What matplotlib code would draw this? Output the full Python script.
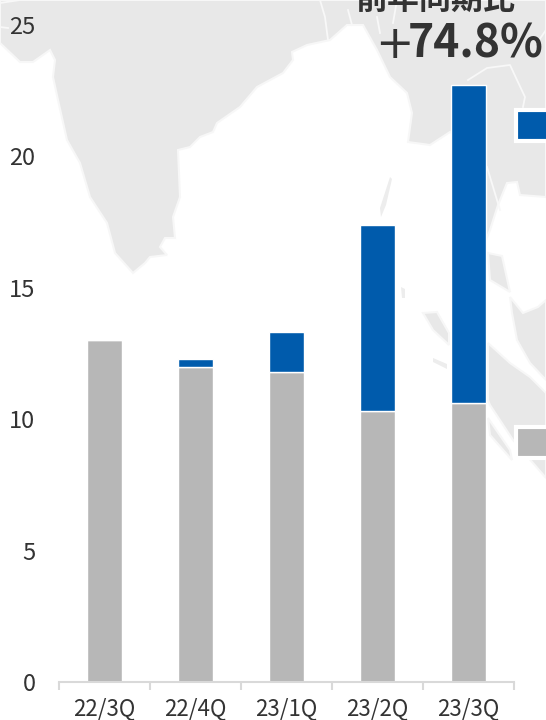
"""
Quarterly stacked bars over a pale regional map backdrop.
"""

import matplotlib
matplotlib.use("Agg")
import matplotlib.pyplot as plt
from matplotlib.patches import Polygon, Rectangle

plt.rcParams['font.family'] = ['Noto Sans CJK JP', 'DejaVu Sans']

WIDTH, HEIGHT = 546, 720

quarters = ['22/3Q', '22/4Q', '23/1Q', '23/2Q', '23/3Q']
grey_values = [13.0, 12.0, 11.8, 10.3, 10.6]
blue_values = [0.0, 0.3, 1.5, 7.1, 12.1]
y_ticks = [0, 5, 10, 15, 20, 25]

BLUE = '#005BAC'
GREY = '#B7B7B7'
LAND = '#E8E8E8'
TEXT = '#333333'

# backdrop outlines, in image pixels
mainland = [(0, 0), (546, 0), (546, 197), (520, 195), (517, 182), (507, 183), (498, 205), (490, 230),
            (486, 240), (486, 150), (450, 132), (430, 145), (408, 142), (412, 113), (407, 93),
            (390, 77), (377, 50), (363, 25), (347, 25), (330, 40), (307, 45), (292, 52), (293, 60),
            (283, 73), (257, 87), (240, 107), (217, 123), (213, 132), (200, 137), (190, 147),
            (178, 150), (180, 197), (173, 217), (175, 238), (165, 238), (160, 247), (167, 255),
            (150, 257), (145, 263), (133, 273), (115, 253), (107, 223), (90, 197), (80, 163),
            (67, 140), (58, 100), (53, 77), (55, 60), (50, 50), (33, 62), (20, 62), (0, 43)]
strip = [(488, 253), (502, 256), (510, 292), (490, 280)]
indochina = [(510, 297), (523, 313), (538, 307), (546, 300), (546, 380), (530, 363), (517, 340),
             (512, 313)]
sumatra_east = [(488, 343), (510, 363), (530, 377), (546, 393), (546, 478), (533, 463), (513, 440),
                (490, 405), (488, 400)]
sumatra_low = [(488, 418), (510, 450), (512, 460), (490, 435)]
sumatra_tip = [(423, 313), (437, 312), (449, 333), (449, 345), (433, 330)]

land_shapes = [mainland, strip, indochina, sumatra_east, sumatra_low, sumatra_tip]

# small islands, too thin to take the pale outline
islet = [(433, 358), (447, 364), (447, 369), (433, 362)]
andaman = [(390, 177), (392, 179), (386, 205), (381, 217), (380, 208)]
nicobar = [(401, 287), (405, 289), (405, 298), (402, 298)]

island_shapes = [islet, andaman, nicobar]

# pale country borders drawn on the land
borders = [
    [(320, 0), (325, 17), (328, 40)],
    [(348, 10), (352, 25)],
    [(377, 17), (380, 33)],
    [(393, 23), (397, 0)],
    [(468, 80), (487, 68), (510, 65), (517, 80), (525, 97), (523, 107)],
    [(487, 167), (500, 210)],
    [(546, 30), (537, 43)],
    [(0, 27), (8, 28)],
    [(0, 3), (20, 0)],
]

fig = plt.figure(figsize=(WIDTH / 100, HEIGHT / 100), dpi=100)

bg = fig.add_axes([0, 0, 1, 1])
bg.set_xlim(0, WIDTH)
bg.set_ylim(HEIGHT, 0)
bg.axis('off')
for outline in land_shapes:
    bg.add_patch(Polygon(outline, closed=True, facecolor=LAND, edgecolor='#F7F7F7', linewidth=1.5))
for outline in island_shapes:
    bg.add_patch(Polygon(outline, closed=True, facecolor='#EDEDED', edgecolor='none'))
for line in borders:
    bg.plot([p[0] for p in line], [p[1] for p in line], color='#F8F8F8', linewidth=1.3)

# axes box: x from 59 to 514, y=0 at 682, y=25 at 25
ax = fig.add_axes([59 / WIDTH, (HEIGHT - 682) / HEIGHT, 455 / WIDTH, 657 / HEIGHT])
ax.patch.set_alpha(0)
positions = list(range(len(quarters)))
ax.bar(positions, grey_values, width=0.39, color=GREY, edgecolor='white', linewidth=1)
ax.bar(positions, blue_values, width=0.39, bottom=grey_values, color=BLUE, edgecolor='white', linewidth=1)

ax.set_xlim(-0.5, 4.5)
ax.set_ylim(0, 25)
ax.set_yticks(y_ticks)
ax.set_xticks(positions)
ax.set_xticklabels(quarters)
ax.set_xticks([p - 0.5 for p in positions] + [4.5], minor=True)
ax.tick_params(axis='x', which='major', length=0, pad=11, labelsize=16, labelcolor=TEXT)
ax.tick_params(axis='x', which='minor', length=6, width=1.5, color='#D9D9D9')
ax.tick_params(axis='y', length=0, pad=17, labelsize=17, labelcolor=TEXT)
for name in ['top', 'right', 'left']:
    ax.spines[name].set_visible(False)
ax.spines['bottom'].set_color('#D9D9D9')
ax.spines['bottom'].set_linewidth(1.5)

# legend swatches run off the right edge
for y_top, color in [(110, BLUE), (427, GREY)]:
    bg.add_patch(Rectangle((516, y_top), 40, 31, facecolor=color, edgecolor='white', linewidth=3, zorder=5))

bg.text(516, 0, '前年同期比', fontsize=23, fontweight='bold', color=TEXT, ha='right', va='center')
bg.text(375, 46, '+', fontsize=33, color=TEXT, ha='left', va='center', family='DejaVu Sans')
bg.text(544, 44, '74.8%', fontsize=32, fontweight='bold', color=TEXT, ha='right', va='center')

fig.savefig('out.png', dpi=100)
